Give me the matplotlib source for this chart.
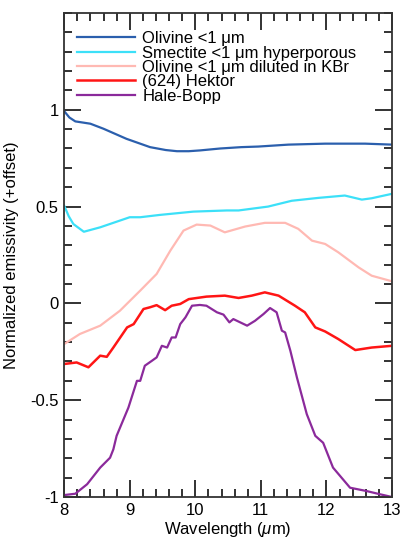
import matplotlib
matplotlib.use('Agg')
import matplotlib.pyplot as plt
from matplotlib.ticker import MultipleLocator

# Olivine <1 um
x_oli = [8.0, 8.08, 8.17, 8.40, 8.60, 8.95, 9.31, 9.55, 9.72, 9.90, 10.07, 10.38, 10.70, 10.96, 11.42, 11.98, 12.59, 13.0]
y_oli = [0.993, 0.96, 0.94, 0.928, 0.902, 0.85, 0.807, 0.792, 0.786, 0.786, 0.79, 0.80, 0.807, 0.81, 0.82, 0.825, 0.825, 0.82]

# Smectite <1 um hyperporous
x_sme = [8.0, 8.07, 8.14, 8.30, 8.55, 9.0, 9.16, 9.46, 9.97, 10.48, 10.66, 11.11, 11.47, 11.88, 12.28, 12.54, 12.69, 13.0]
y_sme = [0.505, 0.45, 0.41, 0.37, 0.393, 0.445, 0.445, 0.457, 0.474, 0.48, 0.48, 0.50, 0.53, 0.545, 0.557, 0.536, 0.543, 0.566]

# Olivine <1 um diluted in KBr
x_kbr = [8.0, 8.24, 8.55, 8.85, 9.16, 9.41, 9.62, 9.82, 10.02, 10.23, 10.45, 10.76, 11.06, 11.37, 11.57, 11.78, 11.98, 12.18, 12.49, 12.69, 13.0]
y_kbr = [-0.21, -0.158, -0.115, -0.038, 0.066, 0.152, 0.273, 0.376, 0.407, 0.402, 0.367, 0.397, 0.416, 0.416, 0.385, 0.324, 0.307, 0.264, 0.186, 0.143, 0.114]

# (624) Hektor
x_hek = [8.0, 8.19, 8.37, 8.55, 8.65, 8.75, 8.96, 9.06, 9.21, 9.31, 9.41, 9.54, 9.64, 9.77, 9.90, 10.17, 10.45,
         10.66, 10.86, 11.06, 11.27, 11.52, 11.67, 11.83, 11.98, 12.18, 12.44, 12.69, 13.0]
y_hek = [-0.313, -0.305, -0.33, -0.27, -0.276, -0.228, -0.124, -0.107, -0.029, -0.02, -0.009, -0.035, -0.012, -0.003, 0.022, 0.035, 0.04,
         0.028, 0.04, 0.057, 0.04, -0.012, -0.046, -0.124, -0.145, -0.184, -0.241, -0.228, -0.219]

# Hale-Bopp
x_hb = [8.0, 8.17, 8.35, 8.55, 8.70, 8.75, 8.80, 8.98, 9.11, 9.16, 9.23, 9.34, 9.41, 9.49, 9.57, 9.64, 9.70, 9.77, 9.85,
        9.95, 10.07, 10.17, 10.33, 10.43, 10.52, 10.58, 10.79, 10.91, 11.04, 11.14, 11.24, 11.32, 11.37, 11.45, 11.55,
        11.70, 11.83, 11.95, 12.10, 12.36, 12.61, 12.82, 13.0]
y_hb = [-0.99, -0.983, -0.934, -0.848, -0.797, -0.754, -0.684, -0.538, -0.40, -0.40, -0.322, -0.296, -0.279, -0.219, -0.228, -0.176, -0.176, -0.107, -0.072,
        -0.012, -0.008, -0.012, -0.046, -0.058, -0.098, -0.081, -0.115, -0.09, -0.055, -0.024, -0.046, -0.141, -0.15, -0.245, -0.383,
        -0.572, -0.684, -0.72, -0.848, -0.952, -0.969, -0.986, -1.0]

labels = ['Olivine <1 μm', 'Smectite <1 μm hyperporous', 'Olivine <1 μm diluted in KBr',
          '(624) Hektor', 'Hale-Bopp']

plt.rcParams['font.family'] = ['Liberation Sans', 'DejaVu Sans']
plt.rcParams['font.size'] = 12
plt.rcParams['mathtext.fontset'] = 'custom'
plt.rcParams['mathtext.it'] = 'Liberation Sans:italic'
plt.rcParams['mathtext.rm'] = 'Liberation Sans'

fig, ax = plt.subplots(figsize=(4.01, 5.40), dpi=100)
fig.subplots_adjust(left=0.16, right=0.9776, top=0.976, bottom=0.0796)

ax.plot(x_oli, y_oli, color='#2b5fad', lw=1.6, label=labels[0])
ax.plot(x_sme, y_sme, color='#3ce0f8', lw=1.6, label=labels[1])
ax.plot(x_kbr, y_kbr, color='#ffb9b3', lw=1.6, label=labels[2])
ax.plot(x_hek, y_hek, color='#ff1515', lw=1.8, label=labels[3])
ax.plot(x_hb, y_hb, color='#8b2a9b', lw=1.6, label=labels[4])

ax.set_xlim(8, 13)
ax.set_ylim(-1, 1.5)
ax.set_xticks([8, 9, 10, 11, 12, 13])
ax.set_yticks([-1, -0.5, 0, 0.5, 1])
ax.set_yticklabels(['-1', '-0.5', '0', '0.5', '1'])
ax.xaxis.set_minor_locator(MultipleLocator(0.2))
ax.yaxis.set_minor_locator(MultipleLocator(0.1))
ax.tick_params(which='both', direction='in', top=True, right=True, color='#222222', width=1.3)
ax.tick_params(which='major', length=12, pad=4)
ax.tick_params(which='minor', length=6)
for s in ax.spines.values():
    s.set_linewidth(1.3)
    s.set_color('#333333')

ax.set_xlabel(r'Wavelength ($\mu$m)', labelpad=2)
ax.set_ylabel('Normalized emissivity (+offset)', labelpad=8)

ax.legend(loc='upper left', bbox_to_anchor=(0.0, 0.988), frameon=False, handlelength=3.5,
          handletextpad=0.45, labelspacing=-0.04, borderaxespad=0.35)

fig.savefig('out.png', dpi=100)
